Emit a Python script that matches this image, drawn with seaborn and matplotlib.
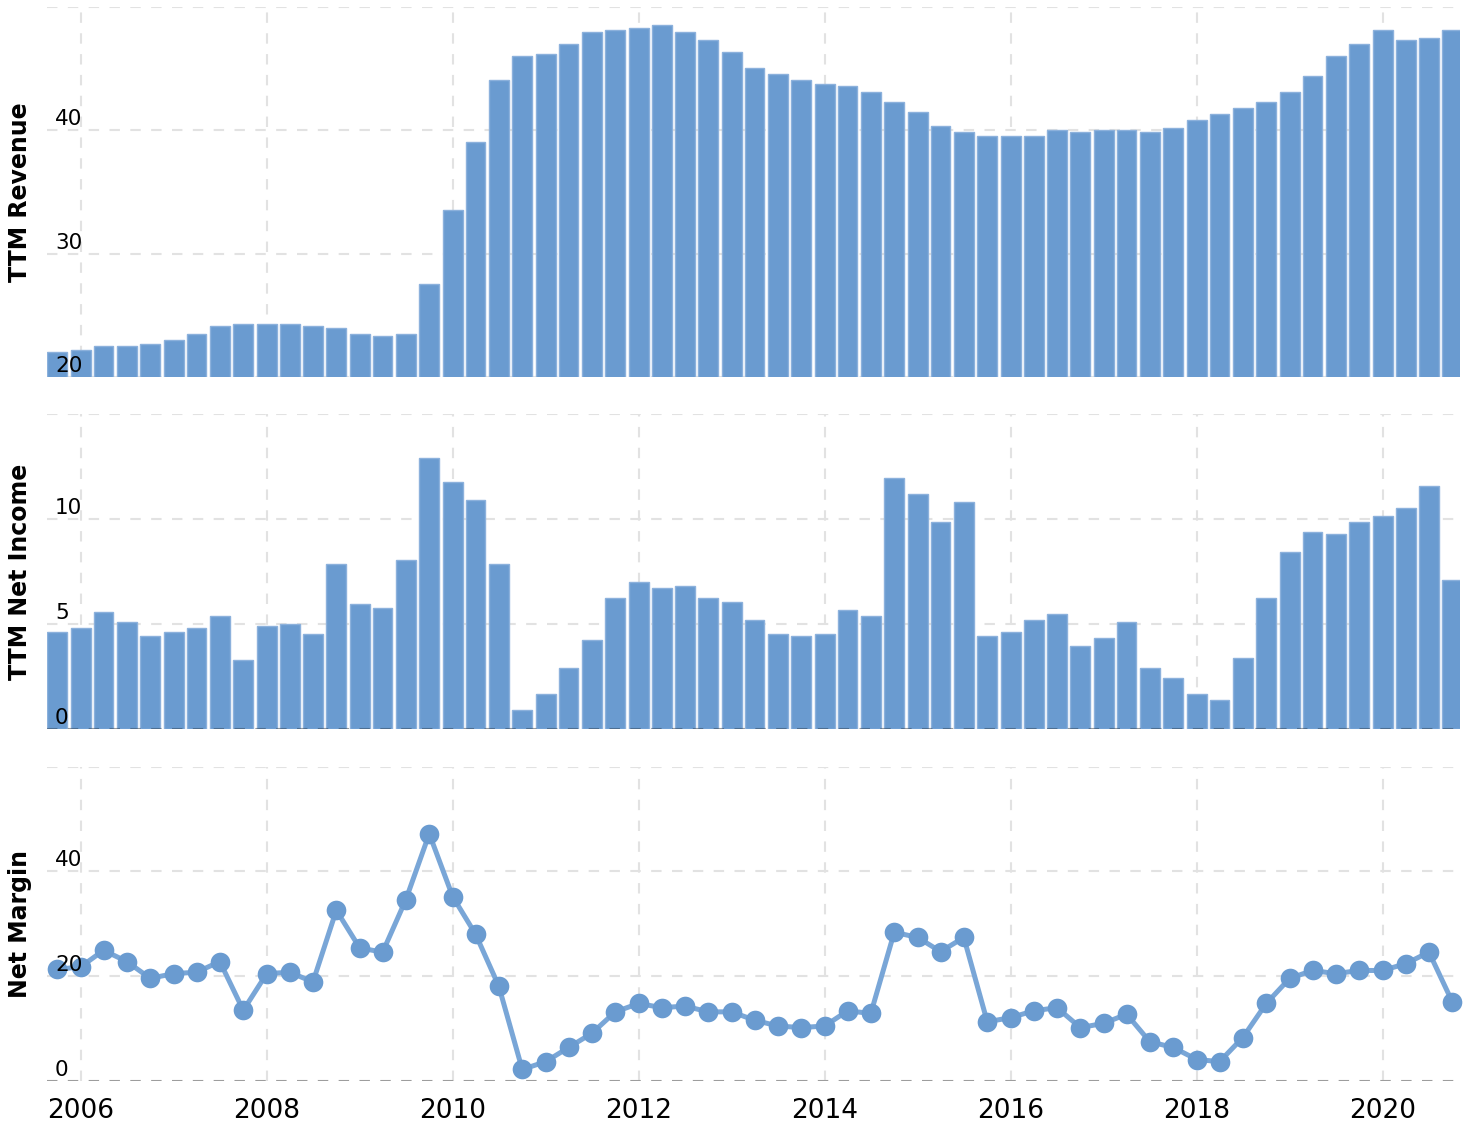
import numpy as np
import pandas as pd
import matplotlib
matplotlib.use("Agg")
import matplotlib.pyplot as plt
import matplotlib.transforms as mtransforms
import seaborn as sns

# ---- data (quarter ends, 2005-09-30 .. 2020-09-30) ----
quarter_ends = pd.date_range("2005-09-30", "2020-09-30", freq="QE")

ttm_revenue = [22.05, 22.2, 22.5, 22.5, 22.7, 23.0, 23.5, 24.15, 24.3, 24.3,
               24.3, 24.15, 24.0, 23.5, 23.35, 23.5, 27.55, 33.55, 39.05, 44.07,
               46.0, 46.2, 47.0, 47.95, 48.1, 48.3, 48.5, 47.95, 47.3, 46.3,
               45.0, 44.55, 44.07, 43.75, 43.6, 43.1, 42.3, 41.5, 40.35, 39.85,
               39.5, 39.5, 39.5, 40.0, 39.85, 40.0, 40.0, 39.85, 40.2, 40.85,
               41.3, 41.8, 42.3, 43.1, 44.4, 46.0, 47.0, 48.1, 47.3, 47.5, 48.1]

ttm_net_income = [4.62, 4.81, 5.57, 5.1, 4.43, 4.62, 4.81, 5.38, 3.29, 4.9,
                  5.0, 4.52, 7.86, 5.95, 5.76, 8.05, 12.9, 11.76, 10.9, 7.86,
                  0.9, 1.67, 2.9, 4.24, 6.24, 7.0, 6.71, 6.81, 6.24, 6.05,
                  5.19, 4.52, 4.43, 4.52, 5.67, 5.38, 11.95, 11.19, 9.86, 10.81,
                  4.43, 4.62, 5.19, 5.48, 3.95, 4.33, 5.1, 2.9, 2.43, 1.67,
                  1.38, 3.38, 6.24, 8.43, 9.38, 9.29, 9.86, 10.14, 10.52, 11.57, 7.1]

net_margin = [21.3, 21.8, 24.95, 22.8, 19.6, 20.5, 20.76, 22.8, 13.5, 20.5,
              20.76, 18.9, 32.6, 25.4, 24.6, 34.6, 47.2, 35.2, 28.0, 18.1,
              2.2, 3.7, 6.4, 9.1, 13.2, 14.8, 14.0, 14.3, 13.2, 13.2,
              11.6, 10.5, 10.2, 10.5, 13.4, 12.9, 28.4, 27.4, 24.7, 27.4,
              11.3, 12.1, 13.4, 14.0, 10.2, 11.0, 12.76, 7.5, 6.4, 4.1,
              3.7, 8.3, 14.8, 19.6, 21.1, 20.5, 21.1, 21.1, 22.4, 24.6, 15.1]

year_ticks = [2006, 2008, 2010, 2012, 2014, 2016, 2018, 2020]
year_labels = ["2006", "2008", "2010", "2012", "2014", "2016", "2018", "2020"]

rev_ticks = [20, 30, 40, 50]
rev_labels = ["20", "30", "40", ""]
ni_ticks = [0, 5, 10, 15]
ni_labels = ["0", "5", "10", ""]
nm_ticks = [0, 20, 40, 60]
nm_labels = ["0", "20", "40", ""]

# decimal-year positions
decimal_year = np.array([d.year + (d.dayofyear) / (366 if d.is_leap_year else 365)
                         for d in quarter_ends])

df = pd.DataFrame({"t": decimal_year, "rev": ttm_revenue,
                   "ni": ttm_net_income, "nm": net_margin})

# ---- style ----
sns.set_style("white")
plt.rcParams["font.family"] = ["DejaVu Sans"]
plt.rcParams["text.color"] = "black"
plt.rcParams["axes.labelcolor"] = "black"
plt.rcParams["xtick.color"] = "black"
plt.rcParams["ytick.color"] = "black"

BAR = "#6a9bd0"
EDGE = "#8cb1dc"
LINE = "#79a6d7"
GRID = "#e2e2e2"
DASH = (0, (5, 5))

fig = plt.figure(figsize=(14.68, 11.28), dpi=100)
left, width = 47 / 1468, (1460 - 47) / 1468
ax1 = fig.add_axes([left, 1 - 377.3 / 1128, width, 370.6 / 1128])
ax2 = fig.add_axes([left, 1 - 729 / 1128, width, 315 / 1128])
ax3 = fig.add_axes([left, 1 - 1081 / 1128, width, 314.3 / 1128])

sns.barplot(data=df, x="t", y="rev", native_scale=True, width=0.86,
            color=BAR, edgecolor=EDGE, linewidth=1, saturation=1,
            errorbar=None, ax=ax1)
sns.barplot(data=df, x="t", y="ni", native_scale=True, width=0.86,
            color=BAR, edgecolor=EDGE, linewidth=1, saturation=1,
            errorbar=None, ax=ax2)
sns.lineplot(data=df, x="t", y="nm", color=LINE, linewidth=3.6, ax=ax3)
sns.scatterplot(data=df, x="t", y="nm", color=BAR, s=200, linewidth=0,
                zorder=4, clip_on=False, ax=ax3)

xlim = (2006 + (47 - 80.7) / 93, 2006 + (1460 - 80.7) / 93)

for ax, yt, yl, ylim, name in [
        (ax1, rev_ticks, rev_labels, (20, 50), "TTM Revenue"),
        (ax2, ni_ticks, ni_labels, (0, 15), "TTM Net Income"),
        (ax3, nm_ticks, nm_labels, (0, 60), "Net Margin")]:
    ax.set_xlim(*xlim)
    ax.set_ylim(*ylim)
    ax.set_xticks(year_ticks)
    ax.set_yticks(yt)
    ax.set_yticklabels([])
    ax.tick_params(axis="both", length=0)
    ax.grid(True, color=GRID, linestyle=DASH, linewidth=1.5)
    ax.set_axisbelow(True)
    for s in ax.spines.values():
        s.set_visible(False)
    ax.set_xlabel("")
    ax.set_ylabel(name, fontsize=17, fontweight="bold", color="black")
    ax.yaxis.set_label_coords(-0.0103, 0.5)
    # y labels drawn inside the plot, above the gridline, on top of the marks
    base = ax.get_yaxis_transform()
    trans = mtransforms.offset_copy(base, fig=fig, x=8, y=5, units="dots")
    for v, lab in zip(yt, yl):
        if lab:
            ax.text(0, v, lab, transform=trans, ha="left", va="baseline",
                    fontsize=15.5, color="black", zorder=10)

for ax in (ax1, ax2):
    ax.set_xticklabels([])

ax3.set_xticklabels(year_labels, fontsize=19, color="black")
ax3.tick_params(axis="x", pad=12)

for ax in (ax2, ax3):
    ax.axhline(0, color="black", alpha=0.3, linestyle=DASH, linewidth=1.5, zorder=3)

fig.savefig("out.png", dpi=100)
